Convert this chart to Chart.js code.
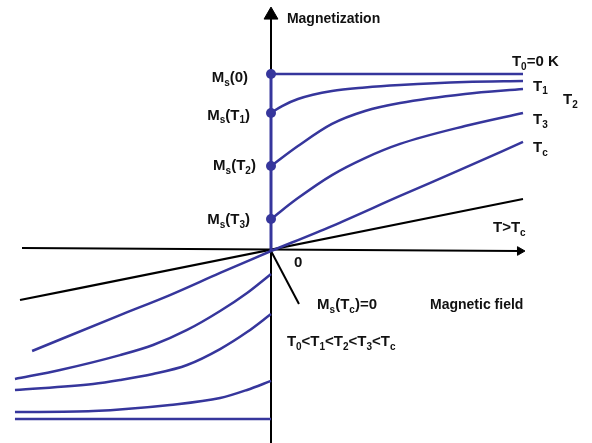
<!DOCTYPE html>
<html>
<head>
<meta charset="utf-8">
<script src="https://cdn.jsdelivr.net/npm/chart.js@4"></script>
<style>
body { margin: 0; background: #fff; }
#wrap { width: 592px; height: 443px; }
</style>
</head>
<body>
<div id="wrap"><canvas id="magChart"></canvas></div>
<script>
// field in units of the axis length, magnetization in units of Ms(0)
const fieldT0Up = [0, 1];
const magT0Up = [1, 1];
const fieldT1Up = [0, 0.044, 0.107, 0.242, 0.373, 0.512, 0.770, 1.0];
const magT1Up = [0.780, 0.819, 0.859, 0.904, 0.924, 0.938, 0.955, 0.960];
const fieldT2Up = [0, 0.107, 0.242, 0.373, 0.512, 0.770, 1.0];
const magT2Up = [0.480, 0.593, 0.718, 0.791, 0.836, 0.887, 0.915];
const fieldT3Up = [0, 0.107, 0.242, 0.373, 0.512, 0.770, 1.0];
const magT3Up = [0.181, 0.299, 0.429, 0.525, 0.605, 0.706, 0.780];
const fieldTcUp = [0, 0.242, 0.512, 0.750, 1.0];
const magTcUp = [0, 0.141, 0.311, 0.458, 0.616];

const fieldT0Down = [-1.016, 0];
const magT0Down = [-0.949, -0.949];
const fieldT1Down = [-1.016, -0.706, -0.401, -0.202, -0.095, 0];
const magT1Down = [-0.910, -0.904, -0.870, -0.831, -0.785, -0.734];
const fieldT2Down = [-1.016, -0.706, -0.599, -0.468, -0.333, -0.202, -0.095, 0];
const magT2Down = [-0.785, -0.751, -0.729, -0.695, -0.644, -0.554, -0.458, -0.356];
const fieldT3Down = [-1.016, -0.837, -0.599, -0.468, -0.333, -0.202, -0.095, 0];
const magT3Down = [-0.723, -0.672, -0.588, -0.531, -0.446, -0.339, -0.237, -0.130];
const fieldTcDown = [-0.948, -0.599, -0.401, -0.202, 0];
const magTcDown = [-0.565, -0.362, -0.249, -0.124, 0];

// paramagnetic line above Tc
const fieldPara = [-0.996, 1.0];
const magPara = [-0.277, 0.294];

// spontaneous magnetization at H = 0
const msLabels = ['M_s(0)', 'M_s(T_1)', 'M_s(T_2)', 'M_s(T_3)'];
const msValues = [1, 0.780, 0.480, 0.181];

// axis ends
const fieldAxis = [-0.988, 0.988];
const magAxis = [-1.085, 1.333];

const BLUE = '#36369c';

function pts(xs, ys) {
    return xs.map((x, i) => ({ x: x, y: ys[i] }));
}

function curve(xs, ys, color, width) {
    return {
        data: pts(xs, ys),
        showLine: true,
        borderColor: color,
        borderWidth: width,
        pointRadius: 0,
        cubicInterpolationMode: 'monotone',
        order: 2
    };
}

// draws text where '_' turns the next character into a subscript
function drawRich(ctx, str, x, y, align, size, weight) {
    const parts = [];
    for (let i = 0; i < str.length; i++) {
        if (str[i] === '_') { parts.push([str[i + 1], true]); i++; }
        else parts.push([str[i], false]);
    }
    const mainFont = weight + ' ' + size + 'px Arial, "Liberation Sans", sans-serif';
    const subFont = weight + ' ' + Math.round(size * 0.68) + 'px Arial, "Liberation Sans", sans-serif';
    let w = 0;
    parts.forEach(p => { ctx.font = p[1] ? subFont : mainFont; w += ctx.measureText(p[0]).width; });
    let cx = align === 'right' ? x - w : x;
    parts.forEach(p => {
        ctx.font = p[1] ? subFont : mainFont;
        ctx.fillText(p[0], cx, p[1] ? y + size * 0.32 : y);
        cx += ctx.measureText(p[0]).width;
    });
}

const textLabels = [
    { text: 'Magnetization', x: 0.063, y: 1.311, dy: 0, align: 'left', size: 14 },
    { text: msLabels[0], x: -0.091, y: msValues[0], dy: 4, align: 'right', size: 15 },
    { text: msLabels[1], x: -0.083, y: msValues[1], dy: 3, align: 'right', size: 15 },
    { text: msLabels[2], x: -0.060, y: msValues[2], dy: 0, align: 'right', size: 15 },
    { text: msLabels[3], x: -0.083, y: msValues[3], dy: 1, align: 'right', size: 15 },
    { text: 'T_0=0 K', x: 0.956, y: 1.068, dy: 0, align: 'left', size: 15 },
    { text: 'T_1', x: 1.040, y: 0.927, dy: 0, align: 'left', size: 15 },
    { text: 'T_2', x: 1.159, y: 0.853, dy: 0, align: 'left', size: 15 },
    { text: 'T_3', x: 1.040, y: 0.740, dy: 0, align: 'left', size: 15 },
    { text: 'T_c', x: 1.040, y: 0.582, dy: 0, align: 'left', size: 15 },
    { text: 'T>T_c', x: 0.881, y: 0.130, dy: 0, align: 'left', size: 15 },
    { text: '0', x: 0.091, y: -0.068, dy: 0, align: 'left', size: 15 },
    { text: 'M_s(T_c)=0', x: 0.183, y: -0.305, dy: 0, align: 'left', size: 15 },
    { text: 'Magnetic field', x: 0.631, y: -0.305, dy: 0, align: 'left', size: 14 },
    { text: 'T_0<T_1<T_2<T_3<T_c', x: 0.063, y: -0.514, dy: 0, align: 'left', size: 15 }
];

const labelPlugin = {
    id: 'labels',
    afterDatasetsDraw(chart) {
        const ctx = chart.ctx;
        const sx = chart.scales.x, sy = chart.scales.y;
        ctx.save();
        ctx.fillStyle = '#111';
        ctx.textBaseline = 'middle';
        textLabels.forEach(l => {
            drawRich(ctx, l.text, sx.getPixelForValue(l.x), sy.getPixelForValue(l.y) + l.dy, l.align, l.size, 'bold');
        });
        ctx.restore();
    }
};

const datasets = [
    {
        data: pts(msValues.map(() => 0), msValues),
        showLine: false,
        pointRadius: 5,
        pointBackgroundColor: BLUE,
        pointBorderWidth: 0,
        order: 0
    },
    {
        data: pts([0, 0], [0, 1]),
        showLine: true,
        borderColor: BLUE,
        borderWidth: 3,
        pointRadius: 0,
        order: 1
    },
    curve(fieldT0Up, magT0Up, BLUE, 2.5),
    curve(fieldT1Up, magT1Up, BLUE, 2.5),
    curve(fieldT2Up, magT2Up, BLUE, 2.5),
    curve(fieldT3Up, magT3Up, BLUE, 2.5),
    curve(fieldTcUp, magTcUp, BLUE, 2.5),
    curve(fieldT0Down, magT0Down, BLUE, 2.5),
    curve(fieldT1Down, magT1Down, BLUE, 2.5),
    curve(fieldT2Down, magT2Down, BLUE, 2.5),
    curve(fieldT3Down, magT3Down, BLUE, 2.5),
    curve(fieldTcDown, magTcDown, BLUE, 2.5),
    curve(fieldPara, magPara, '#000', 2.2),
    // axes
    { data: pts(fieldAxis, [0.017, 0]), showLine: true, borderColor: '#000', borderWidth: 2, pointRadius: 0, order: 3 },
    { data: pts([0, 0], magAxis), showLine: true, borderColor: '#000', borderWidth: 2, pointRadius: 0, order: 3 },
    { data: pts([0, 0.111], [0, -0.299]), showLine: true, borderColor: '#000', borderWidth: 2, pointRadius: 0, order: 3 },
    // arrow heads
    {
        data: pts([fieldAxis[1], 0], [0, magAxis[1]]),
        showLine: false,
        pointStyle: 'triangle',
        pointRadius: [5, 8],
        pointRotation: [90, 0],
        pointBackgroundColor: '#000',
        pointBorderColor: '#000',
        pointBorderWidth: 1,
        order: 3
    }
];

new Chart(document.getElementById('magChart'), {
    type: 'scatter',
    data: { datasets: datasets },
    options: {
        responsive: true,
        maintainAspectRatio: false,
        animation: false,
        layout: { padding: 0, autoPadding: false },
        plugins: { legend: { display: false }, tooltip: { enabled: false } },
        scales: {
            x: { type: 'linear', display: false, min: -1.0754, max: 1.2738 },
            y: { type: 'linear', display: false, min: -1.0847, max: 1.4181 }
        }
    },
    plugins: [labelPlugin]
});
</script>
</body>
</html>
